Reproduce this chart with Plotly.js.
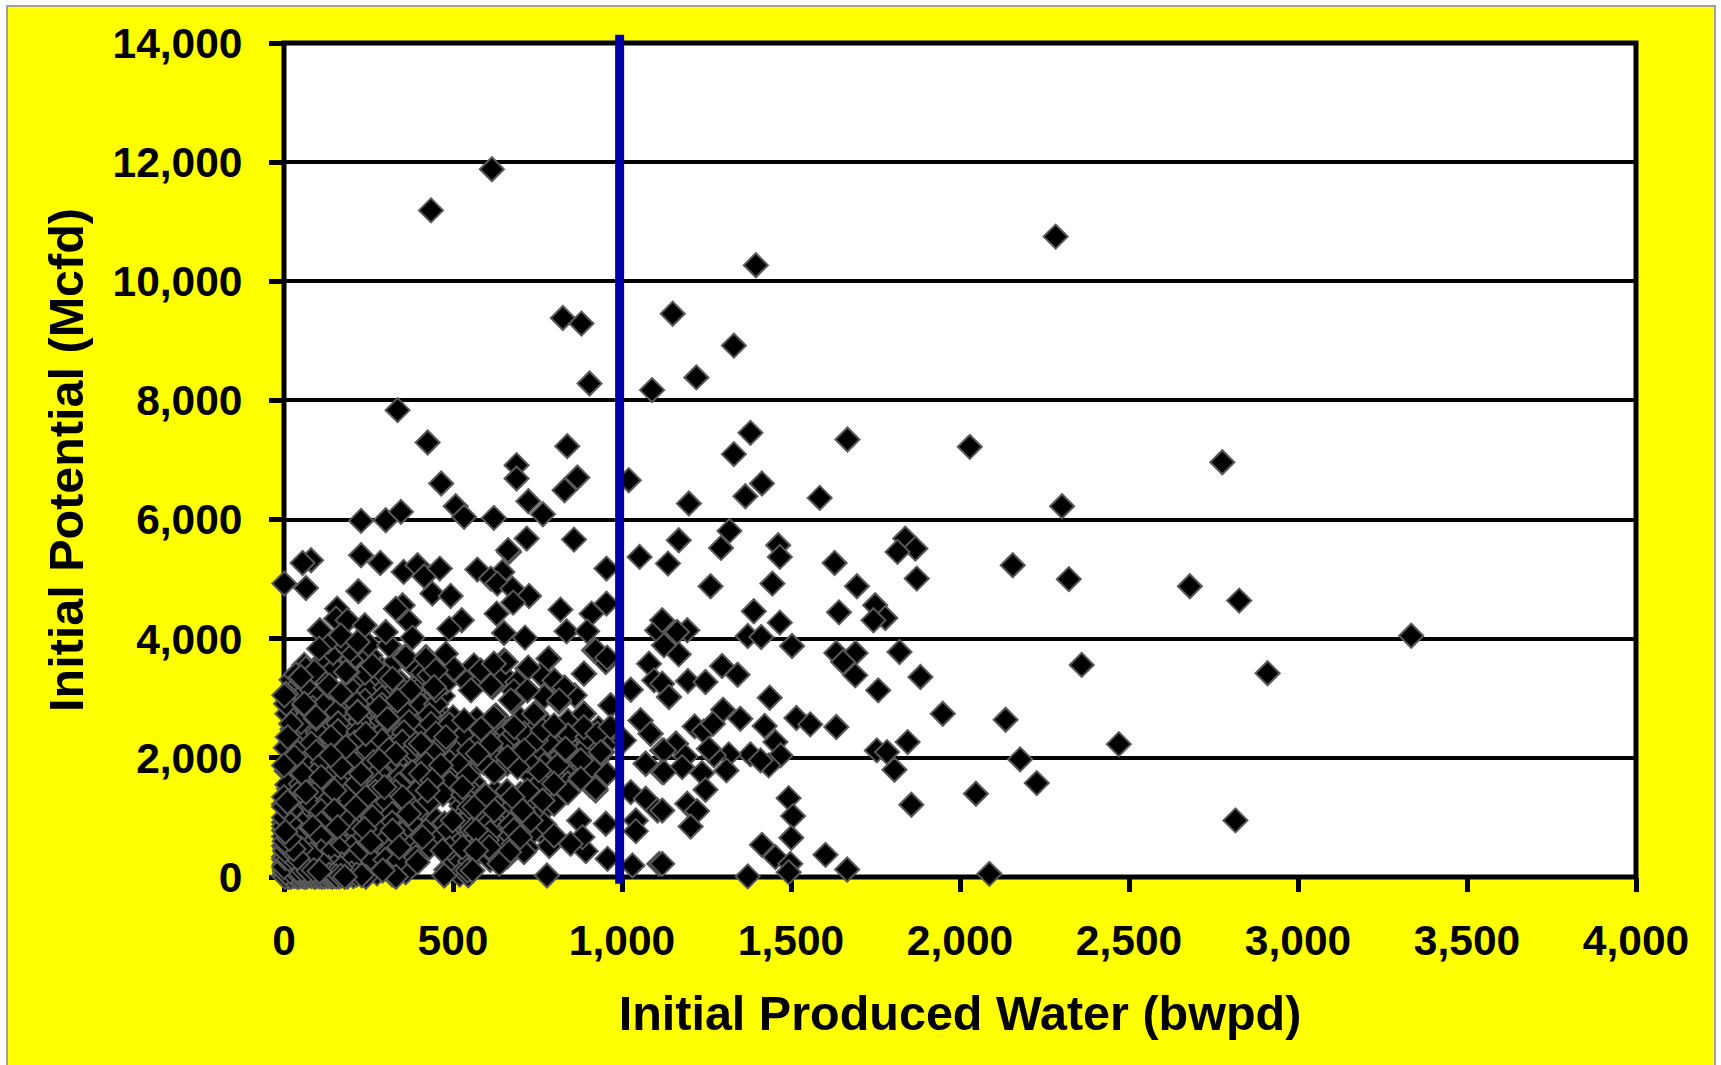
<!DOCTYPE html>
<html><head><meta charset="utf-8">
<script src="https://cdn.plot.ly/plotly-3.0.1.min.js"></script>
<style>
html,body{margin:0;padding:0;background:#fff;width:1721px;height:1065px;overflow:hidden}
#frame{position:absolute;left:6px;top:5px;width:1706px;height:1060px;background:#ffff00;border:2px solid #a0a0a0;border-bottom:none}
#chart{position:absolute;left:0;top:0;width:1721px;height:1065px}
</style></head><body>
<div id="frame"></div><div id="chart"></div>
<script>
const xTicks=[0,500,1000,1500,2000,2500,3000,3500,4000];
const yTicks=[0,2000,4000,6000,8000,10000,12000,14000];
const xTitle="Initial Produced Water (bwpd)";
const yTitle="Initial Potential (Mcfd)";
const cutoffX=[993,993];

const originPile=[[0,20],[12,5],[25,30],[38,8],[50,22],[62,5],[75,35],[88,10],[100,25],[112,5],[125,30],[138,12],[150,20],[162,6],[175,28],[188,8],[205,15],
[3,90],[15,120],[30,85],[45,140],[60,95],[78,130],[95,80],[115,125],[135,90],[155,130],[178,85],[200,110],
[2,210],[10,260],[22,200],[35,280],[48,220],[66,270],[84,210],[100,290],[125,230],[145,280],[170,215],[195,250],
[0,340],[6,410],[18,370],[32,430],[50,355],[70,400],[92,350],[110,430],[132,375],
[0,520],[8,590],[24,540],[44,610],[62,530],[0,680],[14,720],[34,680],[0,850],[18,900],[0,1000],[0,1180],[10,1260],
[5,60],[20,70],[35,50],[50,70],[65,55],[80,65],[95,50],[110,70],[125,60],[140,65],[155,50],[170,70],[185,55],[200,60],[215,40],[230,30],
[8,160],[22,170],[38,150],[52,170],[68,155],[82,175],[98,150],[115,170],[132,155],[150,175],[168,150],
[5,250],[30,240],[45,260],[75,240],[90,260],[110,245],[0,300],[28,300],[62,310],
[10,370],[25,400],[40,380],[60,420],[80,380],[5,480],[20,460],[35,520],[50,480],
[4,2],[9,40],[16,12],[21,3],[30,15],[33,45],[43,3],[47,35],[56,12],[59,40],[68,8],[71,30],[80,15],[84,40],[93,4],[97,33],[105,12],[109,42],[117,20],[120,8],[130,12],[134,38],[143,5],[146,30],[155,10],[168,18],[180,5],
[2,130],[6,70],[12,190],[18,95],[26,140],[40,110],[55,120],[72,100],[88,115],[105,95],[0,170],[4,320],[14,300],[24,330],[40,320],[3,440],[12,500],[28,470],[2,600],[16,640],[4,760]];

const denseField=[[22,3310],[118,3340],[215,3285],[270,3320],[345,3265],[410,3300],
[35,3170],[75,3120],[200,3150],[250,3130],[300,3180],[355,3110],[400,3160],[470,3040],
[40,2980],[100,3020],[175,2990],[240,2960],[290,3010],[385,2990],[430,2960],
[30,2820],[85,2840],[180,2860],[255,2830],[325,2870],[370,2810],[415,2850],[455,2790],
[45,2700],[120,2720],[190,2680],[250,2700],[340,2720],[395,2660],[465,2610],[520,2540],[560,2590],[600,2540],[650,2570],[710,2560],[770,2590],[840,2500],
[25,2480],[75,2520],[135,2480],[205,2520],[270,2560],[350,2520],[410,2480],[470,2470],[510,2420],[560,2440],[625,2440],[735,2450],[800,2390],[860,2420],
[50,2350],[100,2300],[175,2350],[265,2310],[320,2380],[375,2330],[430,2260],[500,2250],[540,2290],[590,2330],[640,2300],[695,2260],[760,2310],[815,2300],[870,2260],
[5,2170],[70,2140],[120,2190],[215,2160],[270,2210],[345,2180],[420,2120],[465,2150],[510,2090],[590,2110],[650,2170],[700,2080],[755,2140],[795,2110],[855,2130],[910,2180],
[30,1960],[85,1990],[180,2030],[240,2010],[300,2060],[380,2020],[440,1990],[490,1930],[540,1990],[620,1990],[680,1960],[735,1900],[790,1960],[850,1900],[925,1960],
[8,1780],[75,1820],[130,1850],[205,1800],[250,1860],[320,1800],[400,1880],[430,1800],[510,1770],[565,1860],[640,1830],[780,1850],[845,1770],[935,1850],
[30,1640],[85,1600],[140,1680],[190,1620],[260,1650],[330,1610],[380,1680],[470,1620],[520,1650],[560,1600],[735,1680],[800,1690],[900,1640],
[15,1480],[70,1500],[120,1530],[180,1450],[235,1500],[305,1420],[360,1490],[430,1460],[490,1490],[555,1440],[625,1440],[700,1400],[770,1480],[905,1540],
[10,1280],[55,1300],[105,1350],[210,1280],[265,1340],[330,1250],[390,1330],[445,1330],[510,1330],[575,1280],[645,1290],[730,1240],
[35,1170],[85,1130],[130,1200],[180,1080],[235,1150],[290,1130],[345,1190],[405,1170],[525,1190],[590,1100],[650,1140],[695,1060],
[15,1000],[60,970],[105,1040],[165,970],[220,1030],[290,930],[345,960],[410,1020],[450,960],[530,1040],[585,960],[645,1010],[690,950],
[30,830],[75,870],[125,790],[190,880],[260,870],[330,850],[395,840],[460,830],[520,880],[640,850],
[15,650],[65,700],[130,640],[195,700],[280,690],[365,680],[435,690],[500,720],[540,650],[620,660],[660,720],[785,620],
[20,540],[75,560],[140,510],[190,570],[235,510],[295,500],[375,560],[505,590],[580,560],[630,520],[785,520],
[48,330],[95,390],[150,360],[190,420],[240,400],[295,360],[355,380],[520,390],[595,420],[660,340],
[205,230],[255,240],[310,250],[355,220],[500,240],[550,260],[610,290],
[230,90],[275,60],[320,40],[360,80],[480,120],[520,40],[545,30]];

const fillField=[[60,3560],[110,3600],[150,3500],[200,3650],[240,3430],[145,3760],[195,3800],[255,3720],[290,3490],[330,3620],[380,3550],[410,3430],[250,3900],[170,3950],[130,3950],[65,3500],[35,3400],[300,3380],[90,3450],[430,3390],[480,3270],[530,3340],[590,3330],[650,3380],[690,3270],[760,3400],[800,3300],[860,3050],[770,3030],[830,3180],[680,3120],
[120,2900],[215,2910],[290,2890],[360,2920],[405,2880],[450,2900],
[10,2740],[70,2780],[155,2770],[290,2750],[360,2760],[430,2720],[500,2680],[570,2650],
[50,2600],[160,2580],[225,2610],[290,2620],[370,2600],[435,2570],[490,2560],[620,2600],[700,2650],[840,2620],
[100,2420],[160,2450],[220,2440],[295,2440],[355,2430],[450,2410],[530,2370],[590,2420],[660,2440],[840,2380],[930,2500],
[30,2250],[80,2240],[150,2230],[210,2260],[290,2290],[350,2270],[470,2240],[570,2230],[630,2210],[730,2200],[800,2230],[900,2230],[965,2300],
[40,2090],[95,2100],[170,2090],[250,2130],[310,2140],[380,2130],[440,2090],[550,2070],[620,2090],[670,2110],[740,2090],[820,2040],[880,2090],
[60,1900],[115,1920],[205,1920],[265,1930],[330,1930],[420,1900],[520,1890],[590,1920],[660,1900],[770,1880],[810,1880],[885,1850],
[35,1740],[90,1710],[150,1760],[190,1730],[280,1760],[345,1700],[380,1760],[480,1720],[545,1700],
[10,1550],[50,1560],[100,1500],[165,1560],[215,1570],[280,1560],[340,1550],[410,1570],[490,1580],[760,1590],[840,1570],
[40,1400],[95,1420],[180,1360],[270,1430],[330,1430],[390,1420],[470,1390],[530,1380],[660,1440],[720,1450],[840,1420],
[0,1220],[80,1210],[130,1280],[240,1240],[300,1230],[360,1270],[425,1240],[570,1200],[620,1230],[680,1200],[770,1130],
[40,1060],[110,1110],[200,1060],[265,1090],[320,1060],[390,1090],
[0,920],[55,890],[110,900],[185,960],[240,930],[320,910],[375,920],[475,900],[540,940],[610,930],[670,880],[735,820],[770,880],
[45,760],[100,760],[155,740],[215,770],[280,770],[350,730],[420,770],[480,750],[555,790],[610,750],[680,790],[730,720],
[10,600],[50,640],[95,600],[160,610],[230,640],[300,620],[340,620],[390,600],[450,590],[555,560],[600,620],[680,560],[720,490],
[15,470],[60,460],[110,470],[150,450],[200,500],[265,470],[310,430],[400,470],[430,500],[490,480],[560,460],[620,400],[710,420],
[15,320],[50,290],[85,300],[125,320],[170,300],[210,320],[255,310],[300,290],[340,280],[390,330]];

const readField=[[50,3357],[6,3077],[6,2909],[60,2881],[134,3189],[188,3441],[262,3553],[218,2769],[95,2657],[21,2573],[11,2349],[307,2629],[336,2965],[449,3133],[503,3469],[420,3693],[356,3693],[282,2853],[390,2237],[479,2349],[533,2629],[548,2125],[139,2349],[183,2181],[242,2405],[331,2069],[31,2013],[0,1873],[55,1733],[110,1677],[169,1845],[228,1733],[282,1957],[139,2041],[405,1733],[464,1873],[528,1509],[439,1621],[351,1341],[297,1509],[242,1341],[149,1453],[65,1425],[0,1341],[21,1117],[149,1117],[213,1173],[262,1005],[370,1061],[425,1453],[499,949],[548,1173],[85,837],[159,837],[110,669],[36,473],[0,781],[238,809],[321,781],[257,585],[341,501],[410,669],[469,445],[528,501],[543,109],[474,25],[395,249],[331,5],[242,5],[292,109],[164,473],[213,389],[114,333],[65,221],[6,221],
[651,3637],[720,3497],[784,3665],[888,3413],[917,3805],[952,3609],[1080,3581],[1026,3144],[1139,3021],[1095,3301],[617,3189],[720,3133],[676,2937],[814,2937],[888,2741],[967,2881],[1055,2629],[1085,2405],[1119,2125],[1159,2237],[1070,1901],[1119,1761],[1026,1425],[1070,1313],[1105,1117],[1041,949],[1041,770],[1031,193],[1110,221],[957,305],[893,434],[873,949],[952,893],[883,669],[848,557],[799,697],[778,25],[699,669],[666,417],[637,221],[607,501],[568,781],[730,949],[676,1341],[706,1117],[622,1117],[799,1229],[799,1565],[755,1789],[765,1285],[922,1453],[952,1733],[878,1677],[907,1845],[622,1761],[942,2097],[898,2349],[878,1957],[834,2125],[799,2517],[745,2741],[780,2265],[720,1957],[691,1845],[661,2293],[627,2713],[583,2489],[612,2237],[573,2069],[597,1369],[563,1173],[568,445],[558,109],[681,2405],[711,2405],[745,2293],[765,2461],[711,2125],[661,2013]];

const upperField=[[80,5317],[55,5272],[228,5401],[285,5272],[1,4925],[65,4852],[220,4796],[354,5121],[395,5233],[415,5048],[461,5177],[439,4757],[493,4718],[572,5160],[646,5121],[612,5009],[631,4925],[676,4841],[725,4718],[678,4606],[666,5457],[954,5177],[1052,5373],[351,4561],[331,4505],[370,4281],[380,4018],[526,4309],[489,4169],[629,4421],[651,4096],[713,4018],[818,4488],[954,4589],[910,4421],[836,4124],[897,4124],[922,3805],[956,3682],[887,3413],[782,3665],[723,3514],[1104,4141],[157,4505],[154,4337],[188,4309],[239,4225],[106,4141],[168,4057],[218,3945],[104,3833],[311,3889],[301,4113],[360,3693],[420,3665],[479,3749],[503,3497],[449,3469],[562,3553],[582,3469],[656,3609],[621,3581],[553,3133],[612,3217],[134,3217],[183,3441],[262,3553],[321,3329],[375,3133],[444,3189],[1,3049],[60,2909],[95,2685],[168,3077],[218,2769],[306,2657],[336,2965],[405,2237],[720,3133],[814,2965],[671,2965],[621,2685],[740,2741],[681,2517],[799,2545],[887,2741],[966,2881],[1055,2629],[1084,2405],[887,2517],[927,2405],[966,2517],[1006,2293],[833,2153],[937,2097],[878,1957],[956,1733],[922,1481],[1070,1901],[878,1649]];

const sparsePoints=[[615,11880],[435,11190],[2283,10750],[1396,10270],[1150,9456],[825,9383],[880,9290],[1331,8920],[1220,8386],[904,8285],[1089,8173],[336,7837],[425,7294],[838,7232],[688,6913],[688,6689],[1020,6661],[465,6605],[868,6706],[830,6493],[508,6224],[533,6045],[621,6028],[723,6308],[766,6090],[228,5978],[301,5989],[346,6129],[718,5681],[663,5485],[858,5664],
[1380,7456],[1331,7098],[1667,7344],[2029,7221],[1414,6605],[1365,6392],[1585,6364],[1198,6269],[2302,6224],[2776,6963],[1168,5653],[1318,5810],[1293,5524],[1462,5569],[1467,5373],[1838,5681],[1868,5513],[1815,5457],
[1136,5261],[1629,5272],[2156,5233],[1262,4880],[1445,4925],[1695,4880],[1872,5009],[2322,5000],[2680,4880],[2826,4640],[3335,4050],[2910,3420],[2360,3560],[2470,2230],[2815,950],
[1390,4460],[1467,4270],[1642,4443],[1749,4561],[1779,4348],[1744,4309],[1193,4141],[1163,4113],[1119,4309],[1372,4046],[1412,4029],[1503,3878],[1634,3760],[1691,3760],[1654,3609],[1690,3385],[1821,3777],[1883,3357],[1758,3133],[1168,3738],[1124,3889],[1296,3542],[1342,3396],[1195,3290],[1247,3273],[1119,3245],[1139,3021],[1437,3010],[1299,2808],[1350,2657],[1215,2528],[1242,2444],[1269,2573],[1422,2534],[1516,2668],[1557,2562],[1634,2517],[1949,2741],[2135,2640],[1754,2125],[1784,2097],[1845,2265],[1806,1800],[2178,1974],[2227,1576],[2047,1397],[1856,1212],[1454,2265],[1469,2041],[1434,1873],[1380,2058],[1410,1957],[1316,2058],[1272,2041],[1257,2153],[1160,2237],[1188,2024],[1124,2125],[1178,1845],[1309,1789],[1237,1744],[1124,1761],[1247,1464],[1193,1229],[1222,1106],[1203,848],[1119,1117],[1493,1324],[1506,1022],[1501,658],[1414,540],[1454,333],[1498,221],[1493,81],[1372,10],[1602,372],[1666,126],[2087,53],[1119,221]];

const points=[...denseField,...fillField,...readField,...upperField,...sparsePoints,...originPile];
const waterBwpd=points.map(p=>p[0]);
const potentialMcfd=points.map(p=>p[1]);

const axisBase={showline:false,ticks:'outside',ticklen:14,tickwidth:5,tickcolor:'#000',zeroline:false,layer:'below traces',tickformat:',d',tickfont:{family:'"Liberation Sans",Arial,sans-serif',size:42.5,color:'#000',weight:700}};
const titleFont={family:'"Liberation Sans",Arial,sans-serif',size:48.5,color:'#000',weight:700};
Plotly.newPlot('chart',[
{type:'scatter',mode:'markers',x:waterBwpd,y:potentialMcfd,cliponaxis:false,hoverinfo:'skip',marker:{symbol:'diamond',size:18.5,color:'#000',line:{color:'#595959',width:2}}}
],{
width:1721,height:1065,autosize:false,showlegend:false,
paper_bgcolor:'rgba(0,0,0,0)',plot_bgcolor:'#fff',
margin:{l:283.5,r:85,t:43.3,b:188.3,pad:0},
shapes:[
{type:'rect',xref:'paper',yref:'paper',x0:0,x1:1,y0:0,y1:1,layer:'below',line:{color:'#000',width:5},fillcolor:'rgba(0,0,0,0)'},
{type:'line',xref:'x',yref:'paper',x0:cutoffX[0],x1:cutoffX[1],y0:-0.008,y1:1.01,layer:'above',line:{color:'#0000a6',width:9}}
],
xaxis:{...axisBase,range:[0,4000],tickvals:xTicks,showgrid:false,ticklabelstandoff:12,title:{text:xTitle,font:titleFont,standoff:33}},
yaxis:{...axisBase,range:[0,14000],tickvals:yTicks,showgrid:true,gridcolor:'#000',gridwidth:4,ticklabelstandoff:18,title:{text:yTitle,font:titleFont,standoff:13}}
},{displayModeBar:false,staticPlot:true});
</script></body></html>
